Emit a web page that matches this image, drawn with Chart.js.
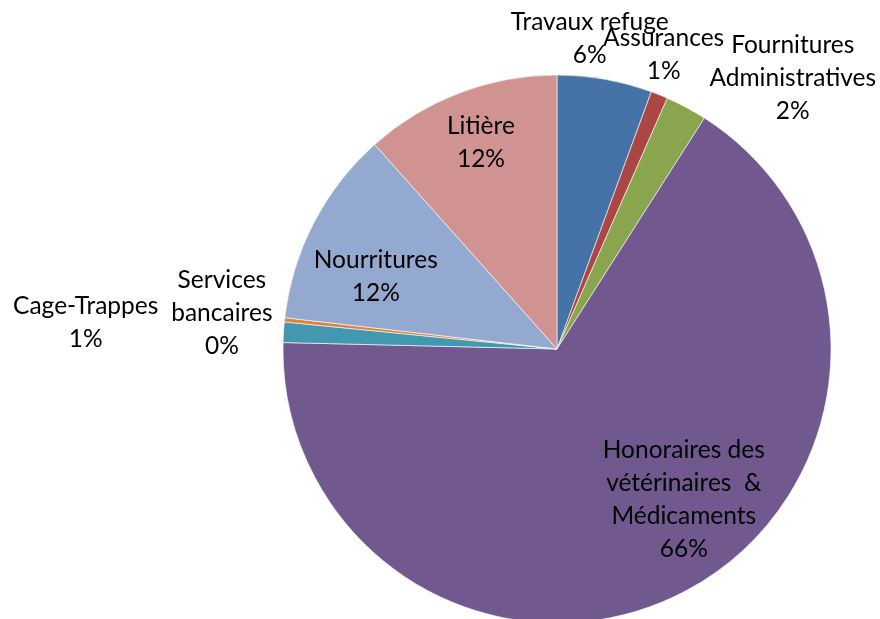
<!DOCTYPE html>
<html>
<head>
<meta charset="utf-8">
<script src="https://cdn.jsdelivr.net/npm/chart.js@4"></script>
<style>
  html, body { margin: 0; padding: 0; background: #fff; }
  #wrap { width: 880px; height: 619px; }
</style>
</head>
<body>
<div id="wrap"><canvas id="pieChart" width="880" height="619"></canvas></div>
<script>
// Data
const categories = [
  'Travaux refuge',
  'Assurances',
  ['Fournitures', 'Administratives'],
  ['Honoraires des', 'vétérinaires  &', 'Médicaments'],
  'Cage-Trappes',
  ['Services', 'bancaires'],
  'Nourritures',
  'Litière'
];
const shares = [5.6, 1.0, 2.45, 66.4, 1.2, 0.25, 11.6, 11.6];
const colors = ['#4572A7', '#AA4643', '#89A54E', '#71588F', '#4198AF', '#DB843D', '#93A9CF', '#D19392'];

// label placement: radius factor + nudge
const labelPos = [
  { f: 1.12, dx: -21, dy: -8 },
  { f: 1.12, dx: -8, dy: -10 },
  { f: 1.12, dx: 91, dy: 0 },
  { f: 0.72, dx: 34, dy: -24 },
  { f: 1.12, dx: -165, dy: -8 },
  { f: 1.12, dx: -30, dy: -3 },
  { f: 0.70, dx: -11, dy: 16 },
  { f: 0.80, dx: 2, dy: -2 }
];

const pieLabels = {
  id: 'pieLabels',
  afterDatasetsDraw(chart) {
    const ctx = chart.ctx;
    const meta = chart.getDatasetMeta(0);
    const total = shares.reduce((a, b) => a + b, 0);
    ctx.save();
    ctx.font = '24.5px Lato';
    ctx.fillStyle = '#000';
    ctx.textAlign = 'center';
    ctx.textBaseline = 'middle';
    meta.data.forEach((arc, i) => {
      const p = arc.getProps(['x', 'y', 'startAngle', 'endAngle', 'outerRadius'], true);
      const mid = (p.startAngle + p.endAngle) / 2;
      const r = p.outerRadius * labelPos[i].f;
      const cx = p.x + Math.cos(mid) * r + labelPos[i].dx;
      const cy = p.y + Math.sin(mid) * r + labelPos[i].dy;
      const lines = [].concat(categories[i]);
      lines.push(Math.round(shares[i] / total * 100) + '%');
      const lh = 33;
      const top = cy - (lines.length - 1) * lh / 2;
      lines.forEach((t, k) => ctx.fillText(t, cx, top + k * lh));
    });
    ctx.restore();
  }
};

const ctx = document.getElementById('pieChart').getContext('2d');

new Chart(ctx, {
  type: 'pie',
  data: {
    labels: categories,
    datasets: [{
      data: shares,
      backgroundColor: colors,
      borderColor: 'rgba(255,255,255,0.6)',
      borderWidth: 1,
      radius: 274
    }]
  },
  options: {
    responsive: false,
    animation: false,
    layout: { padding: { left: 283, right: 49, top: 79, bottom: 0 } },
    plugins: {
      legend: { display: false },
      tooltip: { enabled: false }
    }
  },
  plugins: [pieLabels]
});
</script>
</body>
</html>
